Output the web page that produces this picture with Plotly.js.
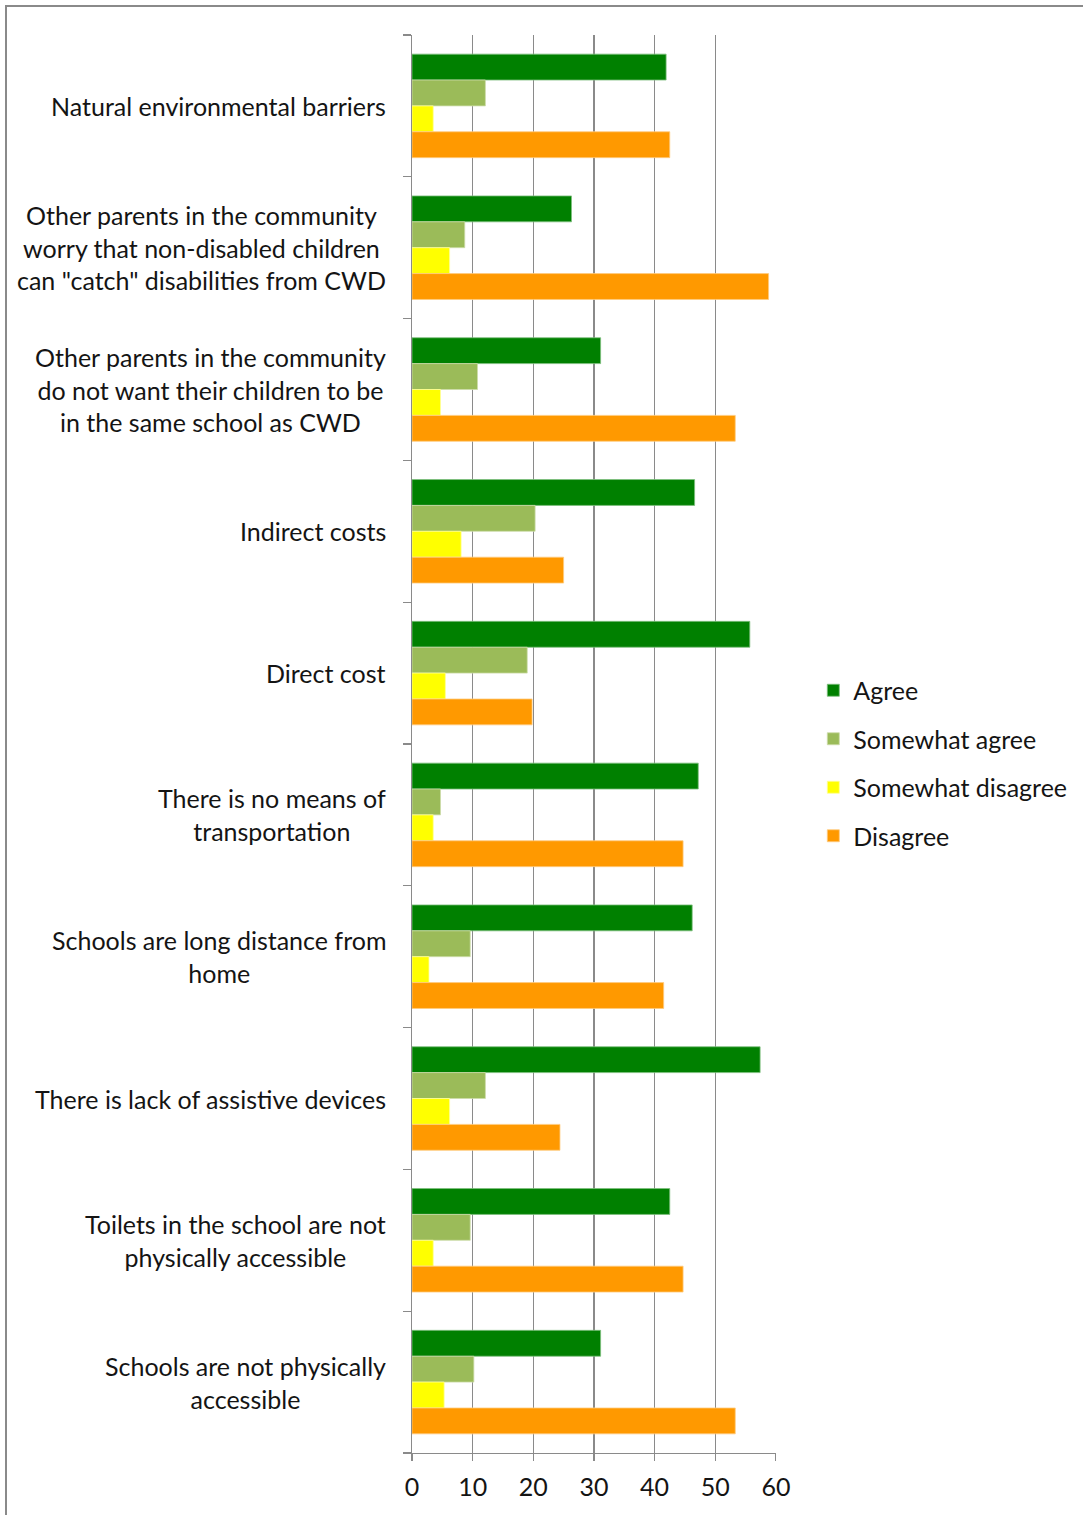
<!DOCTYPE html>
<html>
<head>
<meta charset="utf-8">
<script src="https://cdn.plot.ly/plotly-3.0.1.min.js"></script>
<style>
  html, body { margin: 0; padding: 0; background: #fff; overflow: hidden; }
  #frame { position: absolute; left: 5px; top: 5px; width: 1200px; height: 1600px; border: 2px solid #8a8a8a; box-sizing: border-box; }
  #chart { position: absolute; left: 0; top: 0; width: 1140px; height: 1515px; }
</style>
</head>
<body>
<div id="frame"></div>
<div id="chart"></div>
<script>
const categories = [
  'Natural environmental barriers',
  'Other parents in the community<br>worry that non-disabled children<br>can "catch" disabilities from CWD',
  'Other parents in the community<br>do not want their children to be<br>in the same school as CWD',
  'Indirect costs',
  'Direct cost',
  'There is no means of<br>transportation',
  'Schools are long distance from<br>home',
  'There is lack of assistive devices',
  'Toilets in the school are not<br>physically accessible',
  'Schools are not physically<br>accessible'
];
const seriesNames = ['Agree', 'Somewhat agree', 'Somewhat disagree', 'Disagree'];
const agree            = [41.9, 26.3, 31.1, 46.6, 55.7, 47.2, 46.2, 57.4, 42.5, 31.1];
const somewhatAgree    = [12.1,  8.7, 10.8, 20.3, 19.0,  4.7,  9.6, 12.1,  9.6, 10.2];
const somewhatDisagree = [ 3.5,  6.2,  4.7,  8.1,  5.5,  3.5,  2.8,  6.2,  3.5,  5.3];
const disagree         = [42.5, 58.8, 53.3, 25.0, 19.8, 44.7, 41.5, 24.4, 44.7, 53.3];
const xTicks = [0, 10, 20, 30, 40, 50, 60];

const colors = ['#008000', '#9BBB59', '#FFFF00', '#FF9900'];
const lineColors = ['#7fbf7f', '#cddcaa', '#ffff99', '#ffcc80'];
const values = [agree, somewhatAgree, somewhatDisagree, disagree];

const FONT = 'Lato, "Open Sans", sans-serif';
const TXT = '#141414';
const GRID = '#8a8a8a';

const traces = values.map((v, i) => ({
  type: 'bar',
  orientation: 'h',
  name: seriesNames[i],
  x: v,
  y: categories.map((c, k) => k),
  legendgroup: 'g' + i,
  marker: { color: colors[i], line: { color: lineColors[i], width: 0.8 } },
  hoverinfo: 'x+name'
}));

const annotations = categories.map((c, k) => ({
  xref: 'paper', yref: 'y',
  x: 0, y: k,
  xanchor: 'right', yanchor: 'middle',
  xshift: -24,
  align: 'center',
  showarrow: false,
  text: c,
  font: { family: FONT, size: 25, color: TXT }
}));

const layout = {
  width: 1140, height: 1515,
  margin: { l: 412, r: 364, t: 35, b: 62, pad: 0 },
  paper_bgcolor: 'rgba(0,0,0,0)',
  plot_bgcolor: 'rgba(0,0,0,0)',
  barmode: 'group',
  bargap: 0.27,
  bargroupgap: 0,
  font: { family: FONT, size: 25, color: TXT },
  xaxis: {
    range: [0, 60.02],
    tickvals: xTicks,
    ticktext: xTicks.map(String),
    showgrid: true, gridcolor: GRID, gridwidth: 1.2,
    zeroline: false,
    showline: true, linecolor: GRID, linewidth: 1.2,
    ticks: 'outside', ticklen: 7, tickcolor: GRID, tickwidth: 1.2,
    ticklabelstandoff: 5,
    tickfont: { family: FONT, size: 25, color: TXT },
    fixedrange: true
  },
  yaxis: {
    type: 'linear',
    range: [categories.length - 0.5, -0.5],
    showticklabels: false,
    tickvals: categories.map((c, k) => k - 0.5).concat([categories.length - 0.5]),
    showgrid: false, zeroline: false,
    showline: true, linecolor: GRID, linewidth: 1.2,
    ticks: 'outside', ticklen: 8, tickcolor: GRID, tickwidth: 1.2,
    fixedrange: true
  },
  legend: {
    x: 1.1025, xanchor: 'left',
    y: 0.4866, yanchor: 'middle',
    traceorder: 'grouped',
    tracegroupgap: 13,
    font: { family: FONT, size: 25, color: TXT },
    bgcolor: 'rgba(0,0,0,0)'
  },
  annotations: annotations,
  showlegend: true
};

Plotly.newPlot('chart', traces, layout, { displayModeBar: false, staticPlot: true });
</script>
</body>
</html>
